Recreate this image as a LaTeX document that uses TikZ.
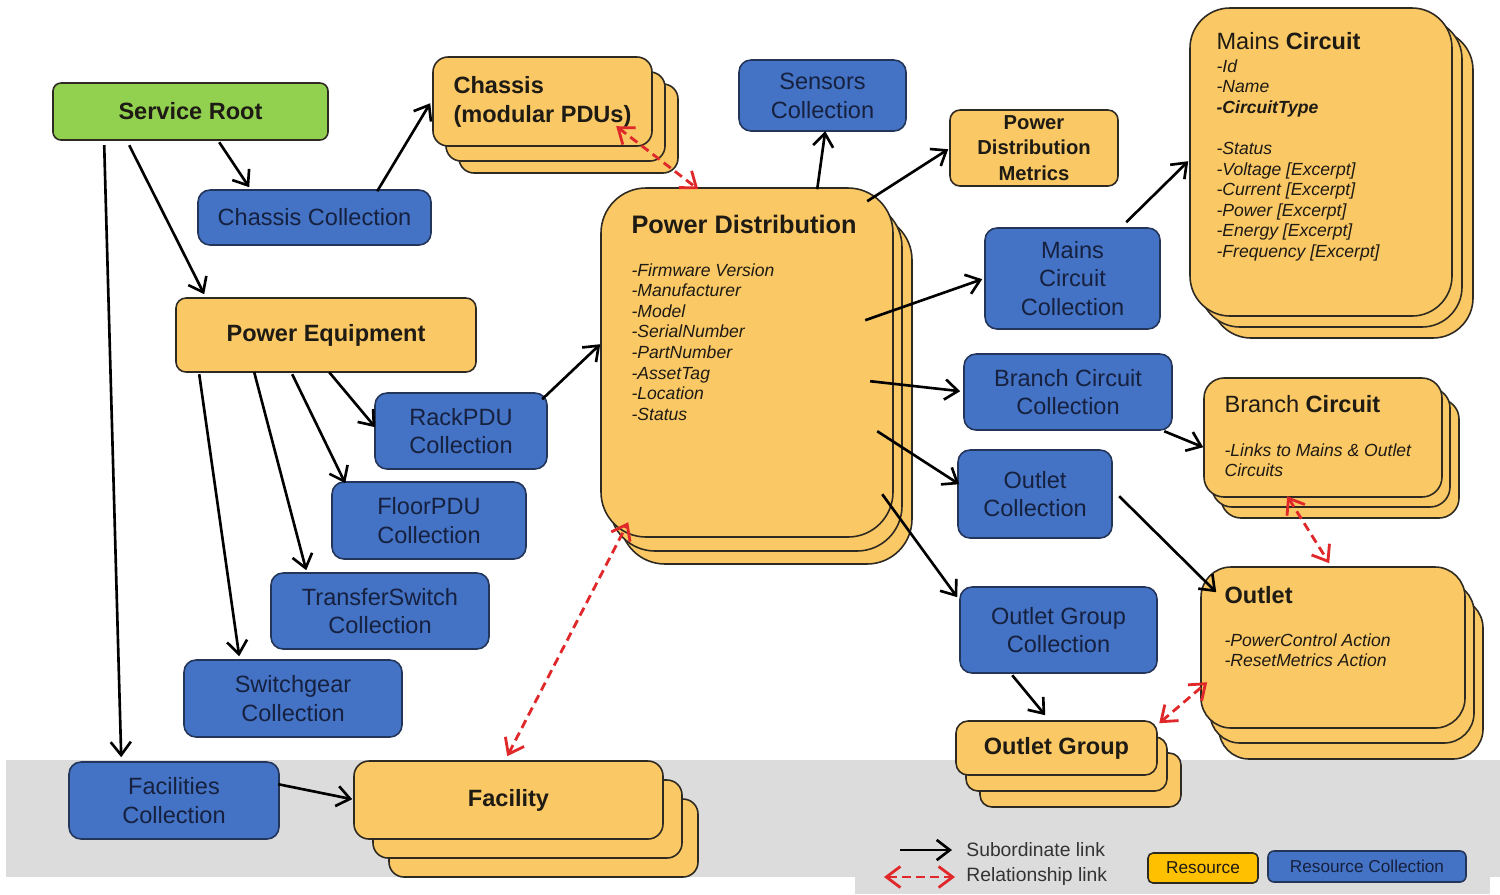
\documentclass[tikz,border=0pt]{standalone}
\usepackage{fontspec}
\setmainfont{Liberation Sans}
\usetikzlibrary{arrows.meta,calc}
\definecolor{yel}{HTML}{FAC864}
\definecolor{blu}{HTML}{4472C4}
\definecolor{grn}{HTML}{92D050}
\definecolor{navy}{HTML}{16213F}
\definecolor{edge}{HTML}{2E2A22}
\definecolor{bedge}{HTML}{24355A}
\definecolor{relc}{HTML}{E0282A}
\definecolor{bg}{HTML}{DCDCDC}
\definecolor{resyel}{HTML}{FFC000}
\definecolor{ink}{HTML}{1E1A14}
\tikzset{
  bx/.style args={#1/#2/#3/#4}{minimum width={((#3)-(#1))*0.02cm}, minimum height={((#4)-(#2))*0.02cm},
    at={({((#1)+(#3))/2},{((#2)+(#4))/2})}},
  res/.style={draw=edge, fill=yel, line width=0.9pt, inner sep=0pt, rounded corners=#1,
    font=\fontsize{13.4}{16.4}\selectfont\bfseries, text=ink, align=center},
  res/.default=0.3cm,
  coll/.style={draw=bedge, fill=blu, line width=0.9pt, inner sep=0pt, rounded corners=0.24cm,
    font=\fontsize{13.4}{16.4}\selectfont, text=navy, align=center},
  sub/.style={line width=1.5pt, -{Straight Barb[length=7.5pt,width=11.5pt]}},
  relk/.style={draw=relc, line width=1.6pt, dash pattern=on 5pt off 3pt,
    {Straight Barb[length=8pt,width=12pt]}-{Straight Barb[length=8pt,width=12pt]}},
  attr/.style={font=\fontsize{10}{11.7}\selectfont\itshape, text=ink, align=left, inner sep=0pt, anchor=north west},
  ttl/.style={font=\fontsize{13.4}{16.4}\selectfont, text=ink, inner sep=0pt, anchor=west},
  leg/.style={font=\fontsize{11}{13}\selectfont, text=black!80, inner sep=0pt, anchor=west},
}
\begin{document}
\begin{tikzpicture}[x=0.02cm,y=-0.02cm]
\useasboundingbox (0,0) rectangle (1500,894);
\fill[white] (0,0) rectangle (1500,894);
\fill[bg] (6,760) rectangle (1500,877);
\fill[bg] (855,815) rectangle (1490,894);

% ---------- left column ----------
\node[res=0.16cm, fill=grn, draw=edge, bx=53/83/328/140] (sr) {Service Root};
\node[coll, bx=198/190/431/245] (chc) {Chassis Collection};
\node[res=0.2cm, bx=176/298/476/372] (pe) {Power Equipment};
\node[coll, bx=375/393/547/469] (rack) {RackPDU\\Collection};
\node[coll, bx=332/482/526/559] (floor) {FloorPDU\\Collection};
\node[coll, bx=271/573/489/649] (ts) {TransferSwitch\\Collection};
\node[coll, bx=184/660/402/737] (sg) {Switchgear\\Collection};
\node[coll, bx=69/762/279/839] (fc) {Facilities\\Collection};

% Chassis stack
\node[res, bx=459/84/678/173] (chC) {};
\node[res, bx=446/72/665/161] (chB) {};
\node[res, bx=433/57/652/146, align=left] (ch) {Chassis\\(modular PDUs)};

% Facility stack
\node[res, bx=389/799/698/877] (faC) {};
\node[res, bx=373/780/682/858] (faB) {};
\node[res, bx=354/761/663/839] (fa) {Facility};

% ---------- Power Distribution ----------
\node[res=0.9cm, bx=620/215/912/564] (pdC) {};
\node[res=0.9cm, bx=610/202/902/551] (pdB) {};
\node[res=0.9cm, bx=601/188/893/537] (pd) {};
\node[ttl, font=\fontsize{14.4}{17}\selectfont\bfseries] (pdt) at ($(pd.north west)+(31,37)$) {Power Distribution};
\node[attr] (pda) at ($(pd.north west)+(31,76)$) {-Firmware Version\\-Manufacturer\\-Model\\-SerialNumber\\-PartNumber\\-AssetTag\\-Location\\-Status};

\node[coll, bx=739/60/906/131] (sen) {Sensors\\Collection};
\node[res=0.2cm, bx=950/110/1118/186, font=\fontsize{11.5}{14.5}\selectfont\bfseries] (pdm) {Power\\Distribution\\Metrics};

% Mains Circuit stack
\node[res=0.8cm, bx=1211/30/1473/338] (mcC) {};
\node[res=0.8cm, bx=1200/19/1462/327] (mcB) {};
\node[res=0.8cm, bx=1190/8/1452/316] (mc) {};
\node[ttl] (mct) at ($(mc.north west)+(27,34)$) {Mains \textbf{Circuit}};
\node[attr] (mca) at ($(mc.north west)+(27,52)$) {-Id\\-Name\\\textbf{-CircuitType}\\[11.7pt]-Status\\-Voltage [Excerpt]\\-Current [Excerpt]\\-Power [Excerpt]\\-Energy [Excerpt]\\-Frequency [Excerpt]};

\node[coll, bx=985/228/1160/329] (mcc) {Mains\\Circuit\\Collection};
\node[coll, bx=964/354/1172/430] (bcc) {Branch Circuit\\Collection};

% Branch Circuit stack
\node[res=0.4cm, bx=1221/399/1459/518] (bcC) {};
\node[res=0.4cm, bx=1212/388/1450/507] (bcB) {};
\node[res=0.4cm, bx=1204/378/1442/497] (bc) {};
\node[ttl] (bct) at ($(bc.north west)+(21,27)$) {Branch \textbf{Circuit}};
\node[attr] (bca) at ($(bc.north west)+(21,66)$) {-Links to Mains \& Outlet\\Circuits};

\node[coll, bx=958/450/1112/538] (oc) {Outlet\\Collection};

% Outlet stack
\node[res=0.6cm, bx=1219/598/1483/759] (ouC) {};
\node[res=0.6cm, bx=1210/582/1474/743] (ouB) {};
\node[res=0.6cm, bx=1201/567/1465/728] (ou) {};
\node[ttl, font=\fontsize{13.4}{16.4}\selectfont\bfseries] (out) at ($(ou.north west)+(24,29)$) {Outlet};
\node[attr] (oua) at ($(ou.north west)+(24,67)$) {-PowerControl Action\\-ResetMetrics Action};

\node[coll, bx=960/587/1157/673] (ogc) {Outlet Group\\Collection};

% Outlet Group stack
\node[res=0.24cm, bx=980/753/1181/807] (ogC) {};
\node[res=0.24cm, bx=966/737/1167/791] (ogB) {};
\node[res=0.24cm, bx=956/721/1157/775] (og) {Outlet Group};

% ---------- subordinate links ----------
\draw[sub] ($(sr.north west)+(167,60)$) -- ($(chc.north west)+(52,-2)$);
\draw[sub] ($(sr.north west)+(77,63)$) -- ($(pe.north west)+(29,-3)$);
\draw[sub] ($(sr.north west)+(52,63)$) -- ($(fc.north west)+(53,-4)$);
\draw[sub] ($(chc.north west)+(180,2)$) -- ($(ch.north west)+(-2,47)$);
\draw[sub] ($(pe.north west)+(154,75)$) -- ($(rack.north west)+(1,35)$);
\draw[sub] ($(pe.north west)+(117,77)$) -- ($(floor.north west)+(14,2)$);
\draw[sub] ($(pe.north west)+(79,75)$) -- ($(ts.north west)+(36,-2)$);
\draw[sub] ($(pe.north west)+(24,77)$) -- ($(sg.north west)+(56,-3)$);
\draw[sub] ($(rack.north west)+(168,7)$) -- ($(pd.north west)+(0,157)$);
\draw[sub] ($(pd.north west)+(217,2)$) -- ($(sen.north west)+(87,72)$);
\draw[sub] ($(pd.north west)+(267,14)$) -- ($(pdm.north west)+(-1,40)$);
\draw[sub] ($(pd.north west)+(265,133)$) -- ($(mcc.north west)+(-2,52)$);
\draw[sub] ($(pd.north west)+(270,194)$) -- ($(bcc.north west)+(-3,38)$);
\draw[sub] ($(pd.north west)+(277,244)$) -- ($(oc.north west)+(2,35)$);
\draw[sub] ($(pd.north west)+(282,307)$) -- ($(ogc.north west)+(-2,11)$);
\draw[sub] ($(mcc.north west)+(142,-5)$) -- ($(mc.north west)+(-1,154)$);
\draw[sub] ($(bcc.north west)+(201,78)$) -- ($(bc.north west)+(0,70)$);
\draw[sub] ($(oc.north west)+(162,47)$) -- ($(ou.north west)+(16,26)$);
\draw[sub] ($(ogc.north west)+(53,89)$) -- ($(og.north west)+(90,-5)$);
\draw[sub] ($(fc.north west)+(210,23)$) -- ($(fa.north west)+(-1,39)$);

% ---------- relationship links ----------
\draw[relk] ($(ch.north west)+(184,70)$) -- ($(pd.north west)+(98,2)$);
\draw[relk] ($(fa.north west)+(154,-4)$) -- ($(pd.north west)+(28,335)$);
\draw[relk] ($(bc.north west)+(84,119)$) -- ($(ou.north west)+(129,-3)$);
\draw[relk] ($(og.north west)+(204,3)$) -- ($(ou.north west)+(7,116)$);

% ---------- legend ----------
\coordinate (l1a) at (900,850);
\coordinate (l1b) at (952,850);
\draw[sub] (l1a) -- (l1b);
\node[leg] (l1t) at (966,850) {Subordinate link};
\coordinate (l2a) at (884,877);
\coordinate (l2b) at (955,877);
\draw[relk] (l2a) -- (l2b);
\node[leg] (l2t) at (966,876) {Relationship link};
\node[draw=edge, fill=resyel, line width=0.9pt, rounded corners=0.1cm, inner sep=0pt,
  bx=1148/853/1258/883, font=\fontsize{9.8}{11}\selectfont, text=ink] (lr) {Resource};
\node[coll, rounded corners=0.12cm, bx=1268/851/1466/882, font=\fontsize{9.8}{11}\selectfont] (lc) {Resource Collection};
\end{tikzpicture}
\end{document}
